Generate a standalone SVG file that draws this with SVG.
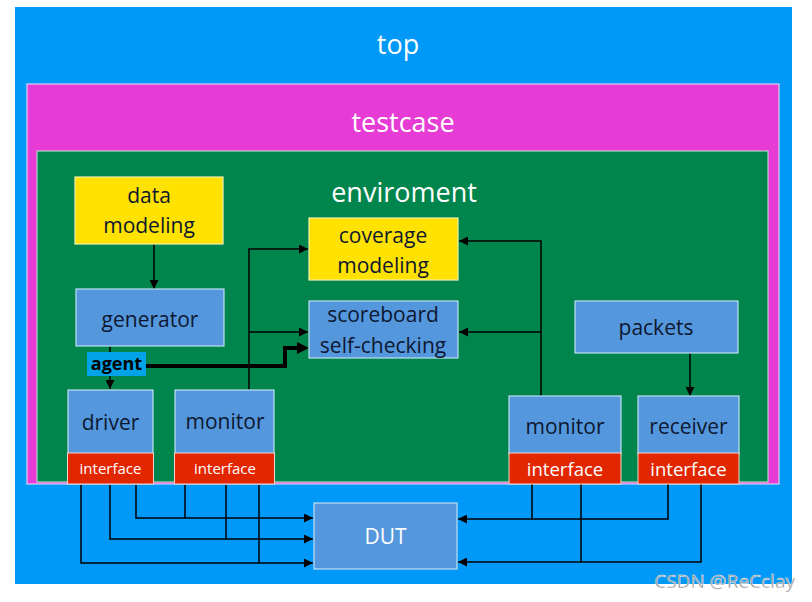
<svg xmlns="http://www.w3.org/2000/svg" width="812" height="602" viewBox="0 0 812 602">
<style>
  .t { font-family: "Open Sans", "Noto Sans", sans-serif; }
  .big { font-size: 27px; fill: #ffffff; text-anchor: middle; }
  .lbl { font-size: 21px; fill: #0d1830; text-anchor: middle; }
  .ifc { fill: #e22600; stroke: #f2d8d0; stroke-width: 1; }
  .ift { font-size: 15px; fill: #ffffff; text-anchor: middle; }
  .ift2 { font-size: 18.5px; fill: #ffffff; text-anchor: middle; }
  .bb { fill: #5597dd; stroke: #bfe0f2; stroke-width: 1.2; }
  .yb { fill: #ffe200; stroke: #f4f0b0; stroke-width: 1.2; }
  .ln { fill: none; stroke: #000; stroke-width: 1.5; }
  .thick { fill: none; stroke: #000; stroke-width: 4; }
</style>
<defs>
  <marker id="ahs" viewBox="0 0 10 10" refX="10" refY="5" markerWidth="12" markerHeight="9" markerUnits="userSpaceOnUse" orient="auto">
    <path d="M0,0 L10,5 L0,10 z" fill="#000"/>
  </marker>
</defs>
<rect width="812" height="602" fill="#ffffff"/>
<g id="top">
  <rect x="15" y="7" width="777" height="577" fill="#0099f8"/>
  <text class="t big" x="398" y="54">top</text>
</g>
<g id="testcase">
  <rect x="27" y="84" width="752" height="400" fill="#e63bd5" stroke="#f0e6f4" stroke-width="1"/>
  <text class="t big" x="403" y="132">testcase</text>
</g>
<g id="enviroment">
  <rect x="37" y="151" width="731" height="331" fill="#00854c" stroke="#c8e6d8" stroke-width="1"/>
  <text class="t big" x="404" y="202">enviroment</text>
</g>

<g id="connectors">
  <line class="ln" x1="154" y1="244" x2="154" y2="289" marker-end="url(#ahs)"/>
  <line class="ln" x1="110" y1="346" x2="110" y2="389" marker-end="url(#ahs)"/>
  <line class="ln" x1="690" y1="353" x2="690" y2="396" marker-end="url(#ahs)"/>
  <polyline class="ln" points="249,390 249,249 308,249" marker-end="url(#ahs)"/>
  <line class="ln" x1="249" y1="332" x2="308" y2="332" marker-end="url(#ahs)"/>
  <polyline class="ln" points="541,396 541,241 459,241" marker-end="url(#ahs)"/>
  <line class="ln" x1="541" y1="332" x2="459" y2="332" marker-end="url(#ahs)"/>
  <polyline class="thick" points="146,366 285,366 285,348 300,348"/>
  <path d="M297,342 L309,348 L297,354 z" fill="#000"/>
  <polyline class="ln" points="136,485 136,518 313,518" marker-end="url(#ahs)"/>
  <line class="ln" x1="185" y1="485" x2="185" y2="518"/>
  <polyline class="ln" points="110,485 110,539 313,539" marker-end="url(#ahs)"/>
  <line class="ln" x1="226" y1="485" x2="226" y2="539"/>
  <polyline class="ln" points="81,485 81,563 313,563" marker-end="url(#ahs)"/>
  <line class="ln" x1="259" y1="485" x2="259" y2="563"/>
  <polyline class="ln" points="668,484 668,519 458,519" marker-end="url(#ahs)"/>
  <line class="ln" x1="532" y1="484" x2="532" y2="519"/>
  <polyline class="ln" points="701,484 701,562 458,562" marker-end="url(#ahs)"/>
  <line class="ln" x1="581" y1="484" x2="581" y2="562"/>
</g>

<g id="data_modeling">
  <rect class="yb" x="75" y="177" width="148" height="67"/>
  <text class="t lbl" x="149" y="203">data</text>
  <text class="t lbl" x="149" y="233">modeling</text>
</g>
<g id="generator">
  <rect class="bb" x="76" y="289" width="148" height="57"/>
  <text class="t lbl" x="150" y="327">generator</text>
</g>
<g id="agent">
  <rect x="87" y="352" width="59" height="24" fill="#00a2e8"/>
  <text class="t" x="116.5" y="370" font-size="18" font-weight="bold" fill="#000" text-anchor="middle">agent</text>
</g>
<g id="coverage_modeling">
  <rect class="yb" x="309" y="218" width="149" height="62"/>
  <text class="t lbl" x="383" y="243">coverage</text>
  <text class="t lbl" x="383" y="273">modeling</text>
</g>
<g id="scoreboard">
  <rect class="bb" x="309" y="301" width="149" height="57"/>
  <text class="t lbl" x="383" y="322">scoreboard</text>
  <text class="t lbl" x="383" y="353">self-checking</text>
</g>
<g id="packets">
  <rect class="bb" x="575" y="301" width="163" height="52"/>
  <text class="t lbl" x="656" y="335">packets</text>
</g>
<g id="driver">
  <rect class="bb" x="68" y="390" width="85" height="64"/>
  <text class="t lbl" x="110.5" y="430">driver</text>
  <rect class="ifc" x="67.5" y="453" width="86" height="31"/>
  <text class="t ift" x="110.5" y="474">interface</text>
</g>
<g id="monitor_left">
  <rect class="bb" x="175" y="390" width="99" height="64"/>
  <text class="t lbl" x="225" y="429">monitor</text>
  <rect class="ifc" x="174.5" y="453" width="100" height="31"/>
  <text class="t ift" x="225" y="474">interface</text>
</g>
<g id="monitor_right">
  <rect class="bb" x="509" y="396" width="112" height="58"/>
  <text class="t lbl" x="565" y="434">monitor</text>
  <rect class="ifc" x="509" y="453" width="112" height="31"/>
  <text class="t ift2" x="565" y="476">interface</text>
</g>
<g id="receiver">
  <rect class="bb" x="638" y="396" width="101" height="58"/>
  <text class="t lbl" x="688.5" y="434">receiver</text>
  <rect class="ifc" x="638" y="453" width="101" height="31"/>
  <text class="t ift2" x="688.5" y="476">interface</text>
</g>
<g id="DUT">
  <rect class="bb" x="314" y="503" width="143" height="66"/>
  <text class="t lbl" x="385.5" y="544" style="fill:#ffffff">DUT</text>
</g>
<text class="t" x="795" y="588" font-size="19" fill="#8c8c8c" stroke="#ffffff" stroke-width="0.4" text-anchor="end">CSDN @ReCclay</text>
</svg>
